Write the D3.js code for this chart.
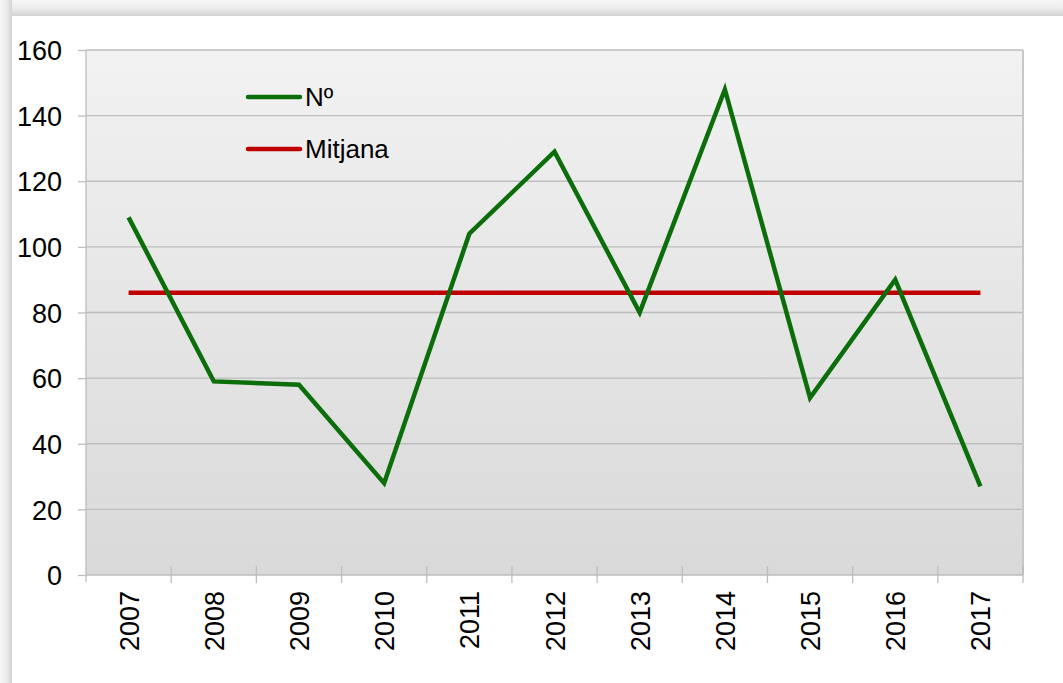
<!DOCTYPE html>
<html><head><meta charset="utf-8">
<script src="https://cdn.jsdelivr.net/npm/d3@7"></script>
<style>body{margin:0;background:#fff;}svg{display:block;font-family:"Liberation Sans",Arial,sans-serif;}</style>
</head><body><svg id="c" width="1063" height="683"></svg>
<script>
const years = ["2007","2008","2009","2010","2011","2012","2013","2014","2015","2016","2017"];
const numValues = [109,59,58,28,104,129,80,148,54,90,27];
const meanValues = [86,86,86,86,86,86,86,86,86,86,86];
const yTicks = [0,20,40,60,80,100,120,140,160];
const seriesNames = ["Nº","Mitjana"];
const seriesColors = ["#0b6e0b","#c00000"];

const svg = d3.select("#c");
const defs = svg.append("defs");
const bg = defs.append("linearGradient").attr("id","bg").attr("x1",0).attr("y1",0).attr("x2",0).attr("y2",1);
bg.append("stop").attr("offset","0%").attr("stop-color","#f2f2f2");
bg.append("stop").attr("offset","100%").attr("stop-color","#d9d9d9");
const tg = defs.append("linearGradient").attr("id","tg").attr("x1",0).attr("y1",0).attr("x2",0).attr("y2",1);
tg.append("stop").attr("offset","0%").attr("stop-color","#f7f7f7");
tg.append("stop").attr("offset","55%").attr("stop-color","#ebebeb");
tg.append("stop").attr("offset","100%").attr("stop-color","#d2d2d2");
const lg = defs.append("linearGradient").attr("id","lg").attr("x1",0).attr("y1",0).attr("x2",1).attr("y2",0);
lg.append("stop").attr("offset","0%").attr("stop-color","#f7f7f7");
lg.append("stop").attr("offset","55%").attr("stop-color","#ebebeb");
lg.append("stop").attr("offset","100%").attr("stop-color","#d2d2d2");

// frame shadow
svg.append("rect").attr("x",0).attr("y",0).attr("width",1063).attr("height",16).attr("fill","url(#tg)");
svg.append("rect").attr("x",0).attr("y",0).attr("width",12).attr("height",683).attr("fill","url(#lg)");
svg.append("rect").attr("x",12).attr("y",16).attr("width",1051).attr("height",667).attr("fill","#fff");

const L=86, R=1023, T=50, B=575;
const x = d3.scaleBand().domain(years).range([L,R]);
const y = d3.scaleLinear().domain([0,160]).range([B,T]);

svg.append("rect").attr("x",L).attr("y",T).attr("width",R-L).attr("height",B-T).attr("fill","url(#bg)");

// gridlines
svg.append("g").selectAll("line").data(yTicks.filter(d=>d>0)).join("line")
  .attr("x1",L).attr("x2",R).attr("y1",d=>y(d)).attr("y2",d=>y(d))
  .attr("stroke","#bdbdbd").attr("stroke-width",1.3);
// right border
svg.append("line").attr("x1",R).attr("x2",R).attr("y1",T).attr("y2",B).attr("stroke","#c8c8c8").attr("stroke-width",2);

// y axis
const ya = svg.append("g").attr("transform",`translate(${L},0)`)
  .call(d3.axisLeft(y).tickValues(yTicks).tickSize(8).tickPadding(16));
ya.select(".domain").attr("d",`M0,${T}V${B+7}`).attr("stroke","#bdbdbd").attr("stroke-width",1.3);
ya.selectAll(".tick line").attr("stroke","#bdbdbd").attr("stroke-width",1.3);
ya.selectAll(".tick text").attr("font-size",27).attr("fill","#000").attr("font-family","Liberation Sans, Arial, sans-serif").attr("dy","0.36em");

// x axis baseline and ticks
svg.append("line").attr("x1",L).attr("x2",R).attr("y1",B).attr("y2",B).attr("stroke","#bdbdbd").attr("stroke-width",1.3);
const bounds = years.map(d=>x(d)).concat([R]);
svg.append("g").selectAll("line").data(bounds.slice(1)).join("line")
  .attr("x1",d=>d).attr("x2",d=>d).attr("y1",B-9).attr("y2",B+8)
  .attr("stroke","#bdbdbd").attr("stroke-width",1.3);
svg.append("g").selectAll("text").data(years).join("text")
  .attr("transform",d=>`translate(${x(d)+x.bandwidth()/2+10},${B+16}) rotate(-90)`)
  .attr("text-anchor","end").attr("font-size",27).attr("fill","#000").text(d=>d);

// lines
const line = d3.line().x((d,i)=>x(years[i])+x.bandwidth()/2).y(d=>y(d));
svg.append("path").datum(meanValues).attr("d",line).attr("fill","none")
  .attr("stroke",seriesColors[1]).attr("stroke-width",4.5);
svg.append("path").datum(numValues).attr("d",line).attr("fill","none")
  .attr("stroke",seriesColors[0]).attr("stroke-width",4.5).attr("stroke-linejoin","miter");

// legend
const leg = svg.append("g");
seriesNames.forEach((n,i)=>{
  const ly = 97 + i*52;
  leg.append("line").attr("x1",248).attr("x2",300).attr("y1",ly).attr("y2",ly)
    .attr("stroke",seriesColors[i]).attr("stroke-width",4.5).attr("stroke-linecap","round");
  leg.append("text").attr("x",305).attr("y",ly).attr("dy","0.36em").attr("font-size",26).attr("fill","#000").text(n);
});
</script></body></html>
